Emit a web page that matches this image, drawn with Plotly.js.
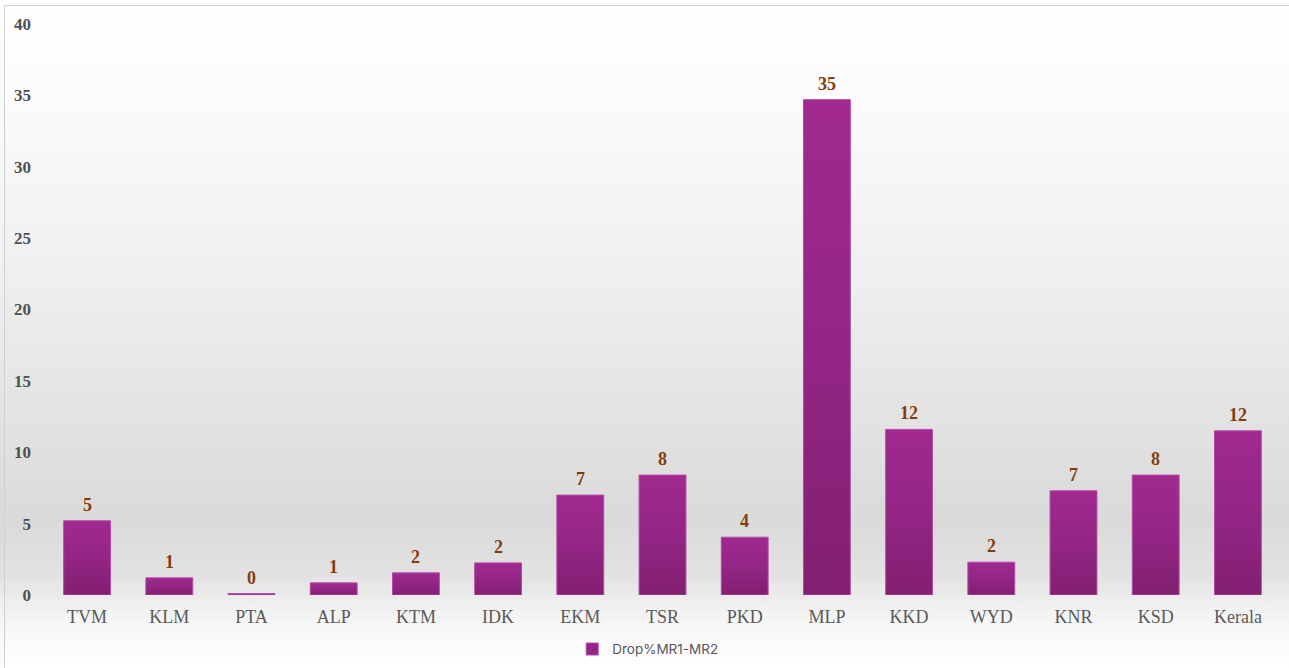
<!DOCTYPE html>
<html>
<head>
<meta charset="utf-8">
<script src="https://cdn.plot.ly/plotly-3.0.1.min.js"></script>
<style>
html,body{margin:0;padding:0;background:#fff;}
#wrap{position:absolute;left:0;top:0;width:1289px;height:668px;overflow:hidden;
background:linear-gradient(to bottom,#ffffff 0%,#fbfbfb 15%,#f0f0f0 40%,#e3e3e3 62%,#dadada 78%,#e2e2e2 86%,#f6f6f6 93%,#ffffff 100%);}
#frame{position:absolute;left:4px;top:5px;width:1300px;height:700px;border-left:1px solid #cfcfcf;border-top:1px solid #cfcfcf;pointer-events:none;}
#chart{position:absolute;left:0;top:0;width:1289px;height:668px;}
</style>
</head>
<body>
<div id="wrap">
<div id="chart"></div>
<div id="frame"></div>
</div>
<script>
const categories = ["TVM","KLM","PTA","ALP","KTM","IDK","EKM","TSR","PKD","MLP","KKD","WYD","KNR","KSD","Kerala"];
const dropValues = [5.2, 1.2, 0.1, 0.85, 1.55, 2.25, 7.0, 8.4, 4.05, 34.7, 11.6, 2.3, 7.3, 8.4, 11.5];
const seriesName = "Drop%MR1-MR2";
const yTicks = [0,5,10,15,20,25,30,35,40];

const trace = {
  type: "bar",
  x: categories,
  y: dropValues,
  name: seriesName,
  showlegend: true,
  marker: {color: "#93258a", line: {color: "#b54aa6", width: 1}},
  hoverinfo: "x+y"
};

const annotations = categories.map((c, i) => ({
  x: c, y: dropValues[i], xref: "x", yref: "y",
  text: String(Math.round(dropValues[i])),
  showarrow: false, yanchor: "bottom", yshift: 4,
  font: {family: "Liberation Serif, serif", size: 18, color: "#843c0c", weight: "bold"}
}));

const layout = {
  width: 1289, height: 668,
  paper_bgcolor: "rgba(0,0,0,0)",
  plot_bgcolor: "rgba(0,0,0,0)",
  margin: {l: 46, r: 10, t: 24, b: 73, autoexpand: false},
  bargap: 0.43,
  showlegend: true,
  annotations: annotations,
  legend: {orientation: "h", x: 0.488, xanchor: "center", y: -0.095, yanchor: "middle",
    font: {family: "Inter, Noto Sans, sans-serif", size: 13.5, color: "#595959"},
    bgcolor: "rgba(0,0,0,0)", itemwidth: 30},
  xaxis: {
    type: "category", automargin: false,
    showgrid: false, zeroline: false, showline: false, ticks: "",
    ticklabelstandoff: 9,
    tickfont: {family: "Liberation Serif, serif", size: 18, color: "#595959"}
  },
  yaxis: {
    range: [0, 40], tickvals: yTicks, ticktext: yTicks.map(String), automargin: false,
    showgrid: false, zeroline: false, showline: false, ticks: "",
    ticklabelstandoff: 14,
    tickfont: {family: "Liberation Serif, serif", size: 17, color: "#505050", weight: "bold"}
  },
  font: {family: "Liberation Serif, serif"}
};

Plotly.newPlot("chart", [trace], layout, {displayModeBar: false}).then(gd => {
  const svg = gd.querySelector(".main-svg");
  const ns = "http://www.w3.org/2000/svg";
  let defs = svg.querySelector("defs");
  if (!defs) { defs = document.createElementNS(ns, "defs"); svg.insertBefore(defs, svg.firstChild); }
  const lg = document.createElementNS(ns, "linearGradient");
  lg.setAttribute("id", "barGrad");
  lg.setAttribute("x1", "0"); lg.setAttribute("y1", "0");
  lg.setAttribute("x2", "0"); lg.setAttribute("y2", "1");
  [["0", "#a1298f"], ["0.45", "#952688"], ["1", "#821f70"]].forEach(([o, c]) => {
    const s = document.createElementNS(ns, "stop");
    s.setAttribute("offset", o); s.setAttribute("stop-color", c);
    lg.appendChild(s);
  });
  defs.appendChild(lg);
  gd.querySelectorAll(".trace.bars .point path").forEach(p => { p.style.fill = "url(#barGrad)"; });
});
</script>
</body>
</html>
